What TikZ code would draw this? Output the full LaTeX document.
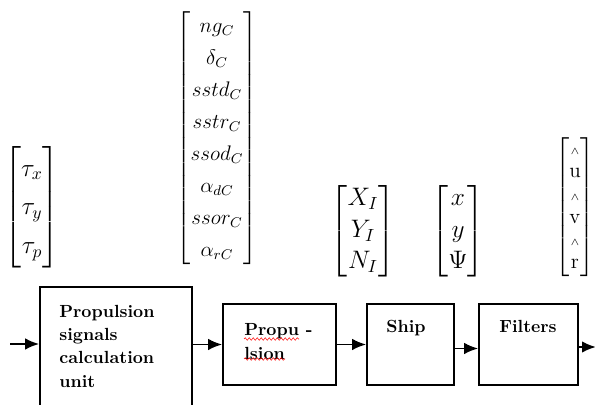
\documentclass[tikz,border=0pt]{standalone}
\usepackage{amsmath}
\usepackage{amssymb}
\usetikzlibrary{arrows.meta,fit,decorations.pathmorphing}

\newcommand{\colvec}[2]{{\renewcommand{\arraystretch}{#1}$\begin{bmatrix}#2\end{bmatrix}$}}

\begin{document}
\begin{tikzpicture}[x=0.2mm,y=-0.2mm,
  blk/.style={draw,line width=0.9pt,inner sep=0pt},
  flow/.style={-{Latex[length=2.8mm,width=2.3mm]},line width=1.1pt},
  lbl/.style={font=\bfseries,inner sep=0pt},
  vec/.style={font=\Large,inner sep=0pt},
  squig/.style={red,line width=0.3pt,decorate,decoration={snake,segment length=0.8mm,amplitude=0.25mm}}]
  \useasboundingbox (0,0) rectangle (595,405);

  % signal vectors
  \node[vec] (tauvec) at (32,207) {\setlength{\arraycolsep}{7pt}\colvec{1.22}{\tau_x\\ \tau_y\\ \tau_p}};
  \node[vec,font=\large] (ctrlvec) at (217,138) {\colvec{1.3}{ng_C\\ \delta_C\\ sstd_C\\ sstr_C\\ ssod_C\\ \alpha_{dC}\\ ssor_C\\ \alpha_{rC}}};
  \node[vec] (forcevec) at (363,231) {\colvec{1.0}{X_I\\ Y_I\\ N_I}};
  \node[vec] (posvec) at (458,231) {\colvec{1.0}{x\\ y\\ \Psi}};
  \node[vec,font=\large] (estvec) at (575,207) {\setlength{\arraycolsep}{6pt}\colvec{0.93}{{\scriptscriptstyle\wedge}\\ \mathrm{u}\\ {\scriptscriptstyle\wedge}\\ \mathrm{v}\\ {\scriptscriptstyle\wedge}\\ \mathrm{r}}};

  % blocks
  \node[blk,fit={(40,287) (192,430)}] (psc) {};
  \node[blk,fit={(223,304) (336,385)}] (prop) {};
  \node[blk,fit={(367,304) (454,385)}] (ship) {};
  \node[blk,fit={(479,304) (578,385)}] (filt) {};

  \node[lbl,align=left,anchor=north west] (psctxt) at (59,305)
    {Propulsion\\[1.2pt] signals\\[1.2pt] calculation\\[1.2pt] unit};
  \node[lbl,align=left,anchor=north west] (proptxt) at (244,323)
    {Propu -\\[1.5pt] lsion};
  \node[lbl,anchor=base] (shiptxt) at (406,333) {Ship};
  \node[lbl,anchor=base] (filttxt) at (528,333) {Filters};

  % spell-check marks
  \draw[squig] (244,339) -- (299,339);
  \draw[squig] (244,359) -- (285,359);

  % connections
  \coordinate (in) at (10,344);
  \coordinate (out) at (596,347);
  \draw[flow] (in) -- (in -| psc.west);
  \draw[flow] (psc.east |- prop.west) -- (prop.west);
  \draw[flow] (prop.east) -- (ship.west);
  \draw[flow] ([yshift=-0.8mm]ship.east) -- ([yshift=-0.8mm]filt.west);
  \draw[flow] ([yshift=-0.5mm]filt.east) -- (out);
\end{tikzpicture}
\end{document}
